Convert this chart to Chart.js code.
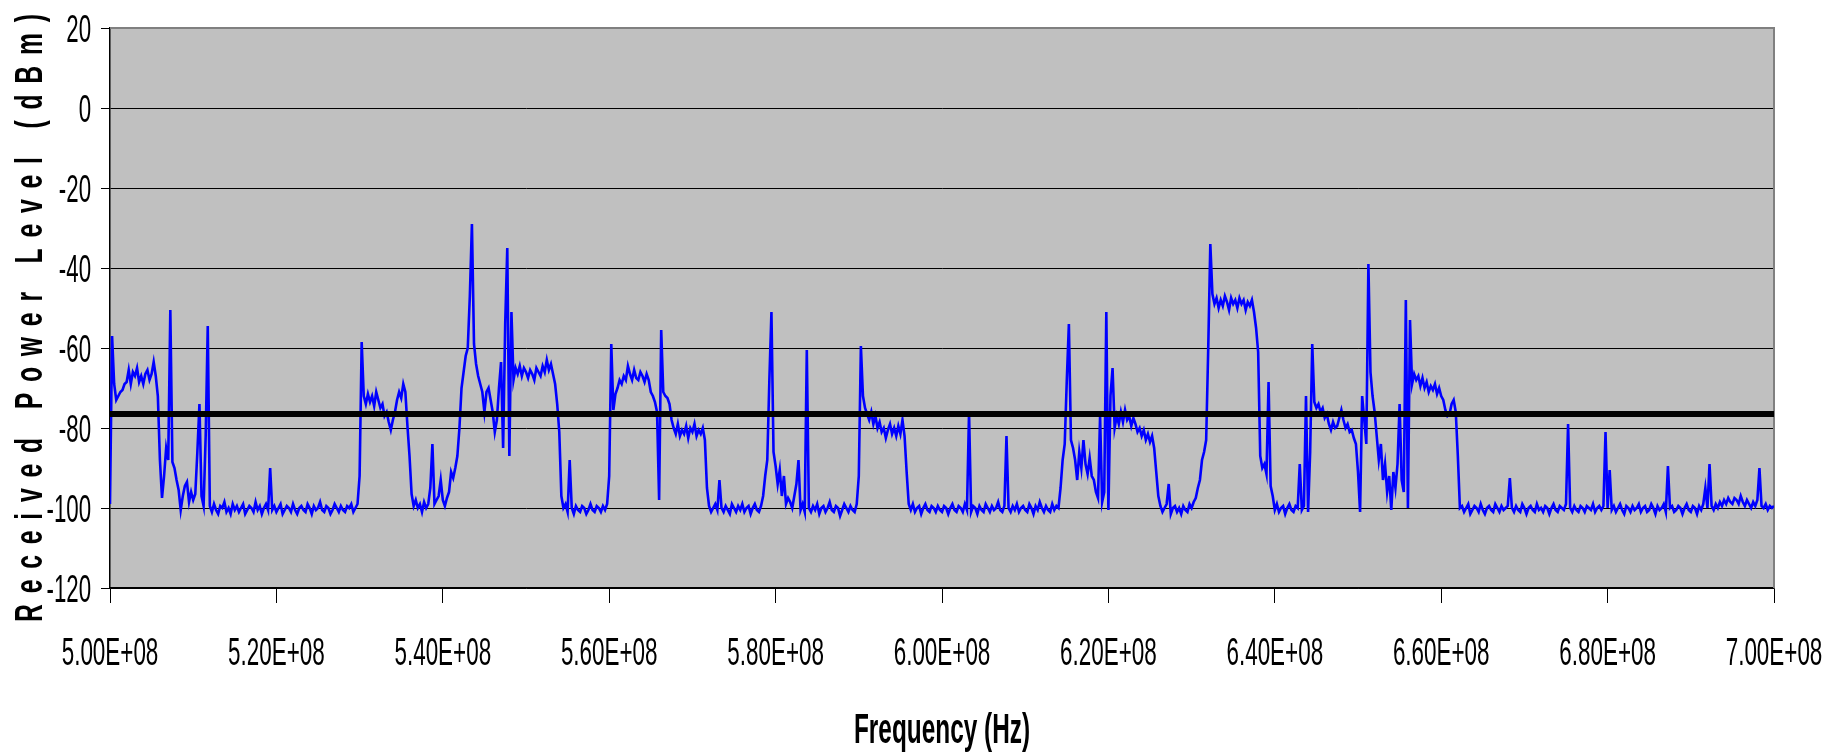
<!DOCTYPE html>
<html>
<head>
<meta charset="utf-8">
<script src="https://cdn.jsdelivr.net/npm/chart.js@4.4.1/dist/chart.umd.min.js"></script>
<style>
  html, body { margin: 0; padding: 0; background: #fff; }
  canvas { display: block; }
</style>
</head>
<body>
<canvas id="grafico" width="1841" height="753"></canvas>
<script>
/* ================================
      DATA
================================ */
// sweep: 500 MHz -> 700 MHz, one reading every 0.25 MHz
const startHz = 500e6;
const stepHz = 0.25e6;

const threshold = -76.5;

const xTickValues = [5.0e8, 5.2e8, 5.4e8, 5.6e8, 5.8e8, 6.0e8, 6.2e8, 6.4e8, 6.6e8, 6.8e8, 7.0e8];
const xTickLabels = ["5.00E+08", "5.20E+08", "5.40E+08", "5.60E+08", "5.80E+08", "6.00E+08",
                     "6.20E+08", "6.40E+08", "6.60E+08", "6.80E+08", "7.00E+08"];
const yTickValues = [20, 0, -20, -40, -60, -80, -100, -120];
const yTickLabels = ["20", "0", "-20", "-40", "-60", "-80", "-100", "-120"];

const xTitle = "Frequency (Hz)";
const yTitle = "Received Power Level (dBm)";

// dBm readings, 4 per MHz
const lvl500 = [
  -99, -57, -69, -73,
  -72, -71, -70.5, -69,
  -68.5, -65.5, -69, -66,
  -67, -65, -68.5, -67,
  -69, -66.5, -65.5, -68,
  -66.5, -63.5, -67, -72,
  -88, -97.5, -92, -85,
  -88, -50.5, -88.5, -90,
  -93, -95.5, -100.5, -97,
  -94.5, -93.5, -98.5, -96,
  -98, -96.5, -86, -74,
  -97, -99.5, -82, -54.5,
  -99.5, -101, -99, -100.5,
  -101.5, -99.5, -100, -98.5,
  -101, -100, -101.5, -99,
  -100.5, -99.5, -101, -100,
  -99, -101.5, -100.5, -99.5,
  -100, -101, -98.5, -100.5,
  -99.5, -101.5, -100, -99,
  -100.5, -90, -100.5, -99.5
];
const lvl520 = [
  -101, -100, -99, -101.5,
  -100.5, -99.5, -100, -101,
  -99, -100.5, -101.5, -100,
  -99.5, -100.5, -101, -99,
  -100, -101.5, -99.5, -100.5,
  -100, -98.5, -100.5, -101,
  -99.5, -100, -101.5, -100.5,
  -99, -100, -101, -99.5,
  -100.5, -101, -99.5, -100,
  -99, -101, -100, -99,
  -92, -58.5, -72, -74,
  -71.5, -73.5, -72, -74.5,
  -71, -73, -75, -74,
  -77, -76, -78.5, -80.5,
  -78, -76, -73, -71,
  -72.5, -69, -71, -79.5,
  -87, -96.5, -99.5, -98,
  -100, -99, -101, -98.5,
  -100, -99, -95, -84,
  -99, -98, -97, -93
];
const lvl540 = [
  -98, -99.5, -97.5, -96,
  -91, -92.5, -90, -87,
  -80, -70, -66, -62,
  -60, -47, -29, -59,
  -64, -67, -69, -71,
  -76, -71, -70, -73,
  -76, -81, -78, -70,
  -63.5, -85, -54, -35,
  -87, -51, -68, -65,
  -66.5, -64.5, -67, -65,
  -66, -67.5, -65.5, -66.5,
  -68, -65, -66, -67,
  -64.5, -66, -63, -65.5,
  -64, -66.5, -69, -74,
  -81, -97, -100, -99,
  -101, -88, -100, -101.5,
  -99.5, -100.5, -101, -99.5,
  -100, -101.5, -100.5, -99,
  -100.5, -101, -99.5, -100,
  -101, -99.5, -100.5, -99
];
const lvl560 = [
  -92, -59, -75.5, -71.5,
  -70, -68, -69, -67,
  -68, -64.5, -66.5, -68,
  -65.5, -67.5, -68, -66,
  -67, -68.5, -66.5, -68,
  -71, -72, -73.5, -76,
  -98, -55.5, -71, -72,
  -72.5, -74, -78, -80,
  -81.5, -79, -82, -80.5,
  -81.5, -79.5, -82.5, -80,
  -81, -79, -82, -80.5,
  -81.5, -80, -83, -95,
  -99.5, -101, -100, -99,
  -100.5, -93, -100, -101,
  -99.5, -100.5, -101.5, -99,
  -100, -101, -99.5, -100.5,
  -99, -101, -100, -99.5,
  -101.5, -100, -99, -100.5,
  -101, -99.5, -97, -92,
  -88, -68, -51, -86
];
const lvl580 = [
  -89.5, -94, -90.5, -97,
  -92, -99, -97.5, -98.5,
  -100, -97, -94, -88,
  -100.5, -99, -101, -60.5,
  -100, -101, -99.5, -100.5,
  -99, -101.5, -100, -99.5,
  -101, -100, -98.5, -100.5,
  -101, -99.5, -100, -102,
  -100.5, -99, -100, -101,
  -99.5, -100.5, -101, -99,
  -92, -59.5, -72, -75,
  -76.5, -78, -76, -79,
  -77, -80, -78.5, -81,
  -80, -82.5, -80.5, -79,
  -81.5, -80, -82, -79.5,
  -81.5, -78, -82, -91,
  -99, -100.5, -99, -101,
  -100, -99.5, -101.5, -100,
  -99, -100.5, -101, -99.5,
  -100, -101, -99.5, -100.5
];
const lvl600 = [
  -101, -99.5, -100, -101.5,
  -100, -99, -100.5, -101,
  -99.5, -100, -101, -99,
  -100.5, -76, -101, -99.5,
  -100, -101.5, -99.5, -100.5,
  -101, -99, -100, -101,
  -99.5, -100.5, -100, -98.5,
  -100.5, -101, -99.5, -82,
  -100, -101, -99.5, -100.5,
  -99, -101, -100, -99.5,
  -100.5, -101, -99, -100,
  -101.5, -99.5, -100.5, -98.5,
  -100, -101, -99.5, -100.5,
  -101, -99, -100.5, -99.5,
  -100, -95, -88, -84,
  -68, -54, -83, -85,
  -88, -93, -86, -90,
  -83, -89, -91.5, -87.5,
  -92, -93, -96, -97.5,
  -77, -98.5, -96, -51
];
const lvl620 = [
  -100.5, -72, -65, -80,
  -77, -79, -76, -78.5,
  -75.5, -78, -77, -79.5,
  -77.5, -79, -81, -80,
  -82, -80.5, -83, -81.5,
  -83.5, -82, -85, -91,
  -97, -99.5, -101, -100,
  -99, -94, -101.5, -100,
  -99.5, -101, -100, -101.5,
  -99.5, -100.5, -101, -99,
  -100, -98.5, -97.5, -95,
  -93, -88, -86, -83,
  -60, -34, -46.5, -49,
  -47.5, -50, -48, -49.5,
  -47, -48.5, -50.5, -47.5,
  -49, -48, -50, -47.5,
  -49, -48, -50.5, -48.5,
  -49.5, -48, -51, -55,
  -61, -87, -90, -89,
  -91.5, -68.5, -94.5, -97
];
const lvl640 = [
  -100.5, -99, -101, -100,
  -99.5, -101.5, -100, -99,
  -100.5, -101, -99.5, -100,
  -89, -100.5, -99.5, -72,
  -101, -86, -59, -73.5,
  -75, -74, -76, -75,
  -77.5, -76.5, -79, -80.5,
  -78.5, -80, -79.5, -77.5,
  -75.5, -78, -80, -79,
  -81, -80.5, -82.5, -84,
  -91, -101, -72, -78,
  -84, -39, -66, -72,
  -76, -82, -88, -84,
  -93, -89, -96, -92,
  -100.5, -91, -95, -89,
  -74, -93, -96, -48,
  -100, -53, -69, -66.5,
  -68, -67, -69.5, -67.5,
  -70, -68.5, -71, -69.5,
  -70.5, -69, -71.5, -70
];
const lvl660 = [
  -72, -73, -75.5, -77,
  -76.5, -74, -73, -76,
  -87, -100, -99.5, -101,
  -100, -99, -101.5, -100.5,
  -99.5, -100, -101, -99,
  -100.5, -101.5, -100, -99.5,
  -100.5, -101, -99, -100,
  -101, -99.5, -100.5, -100,
  -99.5, -92.5, -100, -101,
  -99.5, -100.5, -101, -99,
  -100, -101.5, -100, -99.5,
  -100.5, -101, -99, -100.5,
  -100, -101, -99.5, -100,
  -101.5, -100, -99, -100.5,
  -101, -99.5, -100, -100.5,
  -99, -79, -100, -101,
  -99.5, -100.5, -101, -99.5,
  -100, -101, -99.5, -100,
  -100.5, -99, -101, -100,
  -99.5, -100.5, -99.5, -81
];
const lvl680 = [
  -100, -90.5, -100.5, -99.5,
  -101, -100, -99, -100.5,
  -101.5, -99.5, -100, -101,
  -99.5, -100.5, -100, -99,
  -101, -100, -99.5, -101,
  -100.5, -99, -100, -101.5,
  -99.5, -100.5, -100, -99,
  -101, -89.5, -100, -99.5,
  -101, -100.5, -99.5, -100,
  -101.5, -100, -99, -100.5,
  -101, -99.5, -100, -101.5,
  -99.5, -100.5, -99, -95,
  -100, -89, -99.5, -100.5,
  -99, -100, -98.5, -99.5,
  -98, -99, -97.5, -98.5,
  -99, -97.5, -98, -99,
  -97, -98.5, -99.5, -98,
  -99, -100, -98.5, -99.5,
  -98, -90, -99.5, -100,
  -99, -100.5, -99.5, -100,
  -99.5
];

const niveis = [].concat(lvl500, lvl520, lvl540, lvl560, lvl580,
                         lvl600, lvl620, lvl640, lvl660, lvl680);
const pontos = niveis.map((v, i) => ({ x: startHz + i * stepHz, y: v }));

/* ================================
      HELPERS
================================ */
const fonte = '"Liberation Sans", Arial, sans-serif';

// the original picture has narrow, tall lettering: draw it squeezed sideways
function textoEstreito(ctx, texto, x, y, escala, align) {
    ctx.save();
    ctx.translate(x, y);
    ctx.scale(escala, 1);
    ctx.textAlign = align;
    ctx.fillText(texto, 0, 0);
    ctx.restore();
}

const fundoPlugin = {
    id: "fundo",
    beforeDraw(chart) {
        const { ctx, chartArea: a } = chart;
        ctx.save();
        ctx.fillStyle = "#C0C0C0";
        ctx.fillRect(a.left, a.top, a.right - a.left, a.bottom - a.top);
        ctx.restore();
    },
    beforeDatasetsDraw(chart) {
        const { ctx, chartArea: a } = chart;
        ctx.save();
        ctx.strokeStyle = "#808080";
        ctx.lineWidth = 2;
        ctx.beginPath();
        ctx.moveTo(a.left, a.top);
        ctx.lineTo(a.right, a.top);
        ctx.lineTo(a.right, a.bottom);
        ctx.stroke();
        ctx.restore();
    }
};

const textosPlugin = {
    id: "textos",
    afterDraw(chart) {
        const { ctx, chartArea: a, scales } = chart;
        ctx.save();
        ctx.fillStyle = "#000";
        ctx.textBaseline = "alphabetic";

        // tick labels
        ctx.font = "39px " + fonte;
        xTickValues.forEach((v, i) => {
            textoEstreito(ctx, xTickLabels[i], scales.x.getPixelForValue(v), a.bottom + 77, 0.575, "center");
        });
        yTickValues.forEach((v, i) => {
            textoEstreito(ctx, yTickLabels[i], a.left - 19, scales.y.getPixelForValue(v) + 14, 0.57, "right");
        });

        // x title
        ctx.font = "bold 43px " + fonte;
        textoEstreito(ctx, xTitle, (a.left + a.right) / 2, a.bottom + 155, 0.567, "center");

        // y title, widely spaced letters
        ctx.font = "bold 38px " + fonte;
        const esc = 0.65;
        const comprimento = 608;
        const letras = [...yTitle];
        const larguras = letras.map(c => ctx.measureText(c).width * esc);
        const soma = larguras.reduce((s, w) => s + w, 0);
        const gap = (comprimento - soma) / (letras.length - 1);
        ctx.translate(42, 318);
        ctx.rotate(-Math.PI / 2);
        let pos = -comprimento / 2;
        letras.forEach((c, i) => {
            textoEstreito(ctx, c, pos, 0, esc, "left");
            pos += larguras[i] + gap;
        });
        ctx.restore();
    }
};

/* ================================
      CHART
================================ */
new Chart(document.getElementById("grafico"), {
    type: "line",
    data: {
        datasets: [
            {
                label: "Received power",
                data: pontos,
                borderColor: "#0000FF",
                borderWidth: 2.6,
                pointRadius: 0,
                tension: 0,
                order: 1
            },
            {
                label: "Threshold",
                data: [{ x: 5e8, y: threshold }, { x: 7e8, y: threshold }],
                borderColor: "#000000",
                borderWidth: 6,
                borderCapStyle: "round",
                pointRadius: 0,
                order: 0
            }
        ]
    },
    options: {
        responsive: false,
        animation: false,
        events: [],
        layout: { padding: { left: 101, top: 28, right: 67, bottom: 150 } },
        plugins: {
            legend: { display: false },
            tooltip: { enabled: false }
        },
        scales: {
            x: {
                type: "linear",
                min: 5e8,
                max: 7e8,
                ticks: { display: false, stepSize: 2e7 },
                grid: { drawOnChartArea: false, drawTicks: true, tickLength: 15, color: "#000", lineWidth: 1 },
                border: { color: "#000", width: 1.5 }
            },
            y: {
                min: -120,
                max: 20,
                ticks: { display: false, stepSize: 20 },
                grid: { color: "#000", lineWidth: 1, tickLength: 9 },
                border: { color: "#000", width: 1.5 }
            }
        }
    },
    plugins: [fundoPlugin, textosPlugin]
});
</script>
</body>
</html>
